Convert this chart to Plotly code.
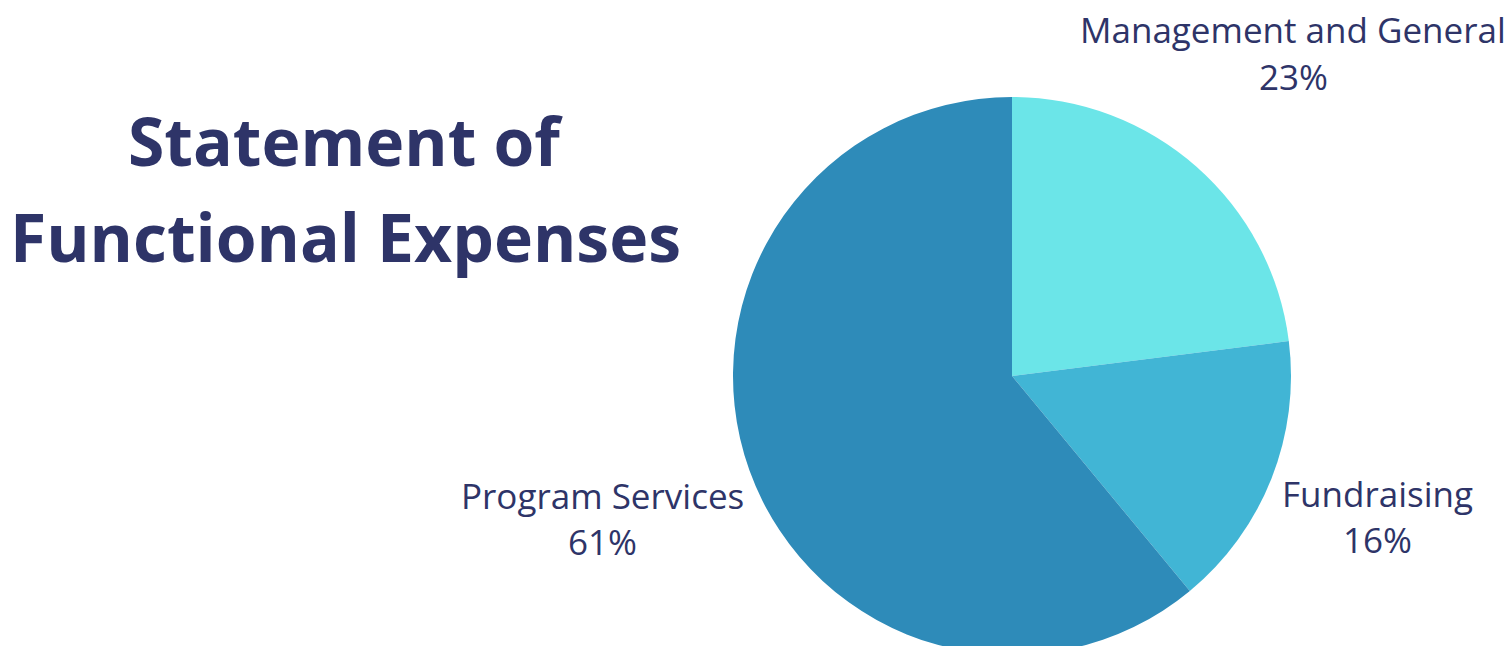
import plotly.graph_objects as go

# Functional expense breakdown (percent of total)
categories = ["Management and General", "Fundraising", "Program Services"]
shares = [23, 16, 61]
colors = ["#6BE5E8", "#41B5D5", "#2E8BB9"]

title_lines = ["Statement of", "Functional Expenses"]

TEXT = "#2E3468"
W, H = 1509, 752          # canvas taller than the window so the pie runs off the bottom edge
CX, CY, R = 1012, 376, 279

fig = go.Figure(
    go.Pie(
        labels=categories,
        values=shares,
        sort=False,
        direction="clockwise",
        rotation=0,
        marker=dict(colors=colors, line=dict(width=0)),
        textinfo="none",
        hoverinfo="label+percent",
        showlegend=False,
        domain=dict(x=[(CX - R) / W, (CX + R) / W], y=[0, 1]),
    )
)

def px(x, y):
    return x / W, 1 - y / H

annotations = []
# title
for line, ty in zip(title_lines, [140, 236]):
    x, y = px(345, ty)
    annotations.append(dict(text=f"<b>{line}</b>", x=x, y=y, xref="paper", yref="paper",
                            xanchor="center", yanchor="middle", showarrow=False,
                            font=dict(family="Open Sans", size=66, color=TEXT)))

# slice labels: name line and percent line
label_pos = {
    "Management and General": (1293, 30, 76),
    "Fundraising": (1377, 493, 539),
    "Program Services": (602, 496, 541),
}
for name, val in zip(categories, shares):
    lx, y1, y2 = label_pos[name]
    for txt, ly in ((name, y1), (f"{val}%", y2)):
        x, y = px(lx, ly)
        annotations.append(dict(text=txt, x=x, y=y, xref="paper", yref="paper",
                                xanchor="center", yanchor="middle", showarrow=False,
                                font=dict(family="Open Sans", size=35, color=TEXT)))

fig.update_layout(
    width=W, height=H,
    margin=dict(l=0, r=0, t=0, b=0),
    paper_bgcolor="white",
    plot_bgcolor="white",
    annotations=annotations,
)

fig.write_html("out.html", post_script="document.body.style.margin='0';document.body.style.overflow='hidden';")
